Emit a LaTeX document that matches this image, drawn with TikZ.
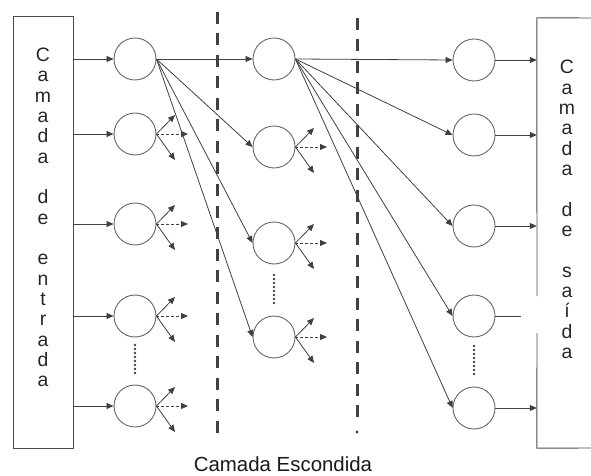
\documentclass[tikz,border=0pt]{standalone}
\usepackage{fontspec}
\setmainfont{Liberation Sans}
\usetikzlibrary{arrows.meta}
\begin{document}
\begin{tikzpicture}[x=1bp,y=-1bp,
  neuron/.style={circle,draw=black!60,line width=0.9bp,minimum size=42bp,inner sep=0pt},
  conn/.style={draw=black!75,line width=0.8bp,-{Triangle[length=7bp,width=6bp]}},
  dconn/.style={conn,dash pattern=on 3bp off 2bp},
  plainline/.style={draw=black!75,line width=0.8bp},
  boxline/.style={draw=black!70,line width=0.9bp},
  sepline/.style={draw=black!75,line width=3bp,dash pattern=on 12bp off 9.5bp},
  dotline/.style={draw=black!75,line width=2.6bp,line cap=round,dash pattern=on 0bp off 4bp},
  boxtext/.style={font={\fontsize{19.5}{20.4}\selectfont},align=center,inner sep=0pt,text=black!85},
]
\useasboundingbox (0,0) rectangle (591,476);

% boxes
\node[boxline,draw,minimum width=60bp,minimum height=432bp,inner sep=0pt] (inbox) at (43,232) {};
\node[minimum width=60bp,minimum height=430bp,inner sep=0pt] (outbox) at (567,233) {};
\coordinate (gapT) at (537,296);
\coordinate (gapB) at (537,333);
\coordinate (outTR) at (591,18);
\coordinate (outBR) at (591,448);
\draw[boxline] (outTR) -- (outbox.north west) -- (gapT);
\draw[boxline] (gapB) -- (outbox.south west) -- (outBR);

\node[boxtext] (intext) at (43,217.5) {C\\a\\m\\a\\d\\a\\[20.4bp]d\\e\\[20.4bp]e\\n\\t\\r\\a\\d\\a};
\node[boxtext] (outtext) at (567,209.5) {C\\a\\m\\a\\d\\a\\[20.4bp]d\\e\\[20.4bp]s\\a\\í\\d\\a};

% separators
\coordinate (s1a) at (217,12);
\coordinate (s1b) at (217,437);
\coordinate (s2a) at (357,18);
\coordinate (s2b) at (357,420);
\draw[sepline] (s1a) -- (s1b);
\draw[sepline] (s2a) -- (s2b);
\fill[black!75] (357,432) circle (1.6bp);

% neurons
\node[neuron] (in1) at (135,59) {};
\node[neuron] (in2) at (135,134) {};
\node[neuron] (in3) at (135,224) {};
\node[neuron] (in4) at (135,316) {};
\node[neuron] (in5) at (135,406) {};
\node[neuron] (h1) at (274,59) {};
\node[neuron] (h2) at (274,147) {};
\node[neuron] (h3) at (274,243) {};
\node[neuron] (h4) at (274,337) {};
\node[neuron] (o1) at (474,60) {};
\node[neuron] (o2) at (474,135) {};
\node[neuron] (o3) at (474,226) {};
\node[neuron] (o4) at (474,316) {};
\node[neuron] (o5) at (474,408) {};

% vertical dots
\draw[dotline] (135,345) -- (135,375);
\draw[dotline] (274,275) -- (274,307);
\draw[dotline] (474,346) -- (474,376);

% input arrows
\foreach \n in {in1,in2,in3,in4,in5}
  \draw[conn] (inbox.east |- \n) -- (\n.west);

% in1 to hidden
\draw[conn] (in1.east) -- (h1.west);
\foreach \n in {h2,h3,h4}
  \draw[conn] (in1.east) -- (\n.west);

% h1 to outputs
\foreach \n in {o1,o2,o3,o4,o5}
  \draw[conn] (h1.east) -- (\n.west);

% output arrows
\foreach \n in {o1,o2,o3,o5}
  \draw[conn] (\n.east) -- (outbox.west |- \n);
\coordinate (o4end) at (521,316);
\draw[plainline] (o4.east) -- (o4end);

% fan-out arrows
\foreach \n in {in2,in3,in4,in5,h2,h3,h4}{
  \draw[conn] (\n.east) -- ([shift={(40,-19)}]\n.center);
  \draw[dconn] (\n.east) -- ([shift={(53,0)}]\n.center);
  \draw[conn] (\n.east) -- ([shift={(40,26)}]\n.center);
}

\node[font={\fontsize{20.5}{24}\selectfont},anchor=base,inner sep=0pt,text=black!90] (hidlabel) at (283,471.5) {Camada Escondida};
\end{tikzpicture}
\end{document}
